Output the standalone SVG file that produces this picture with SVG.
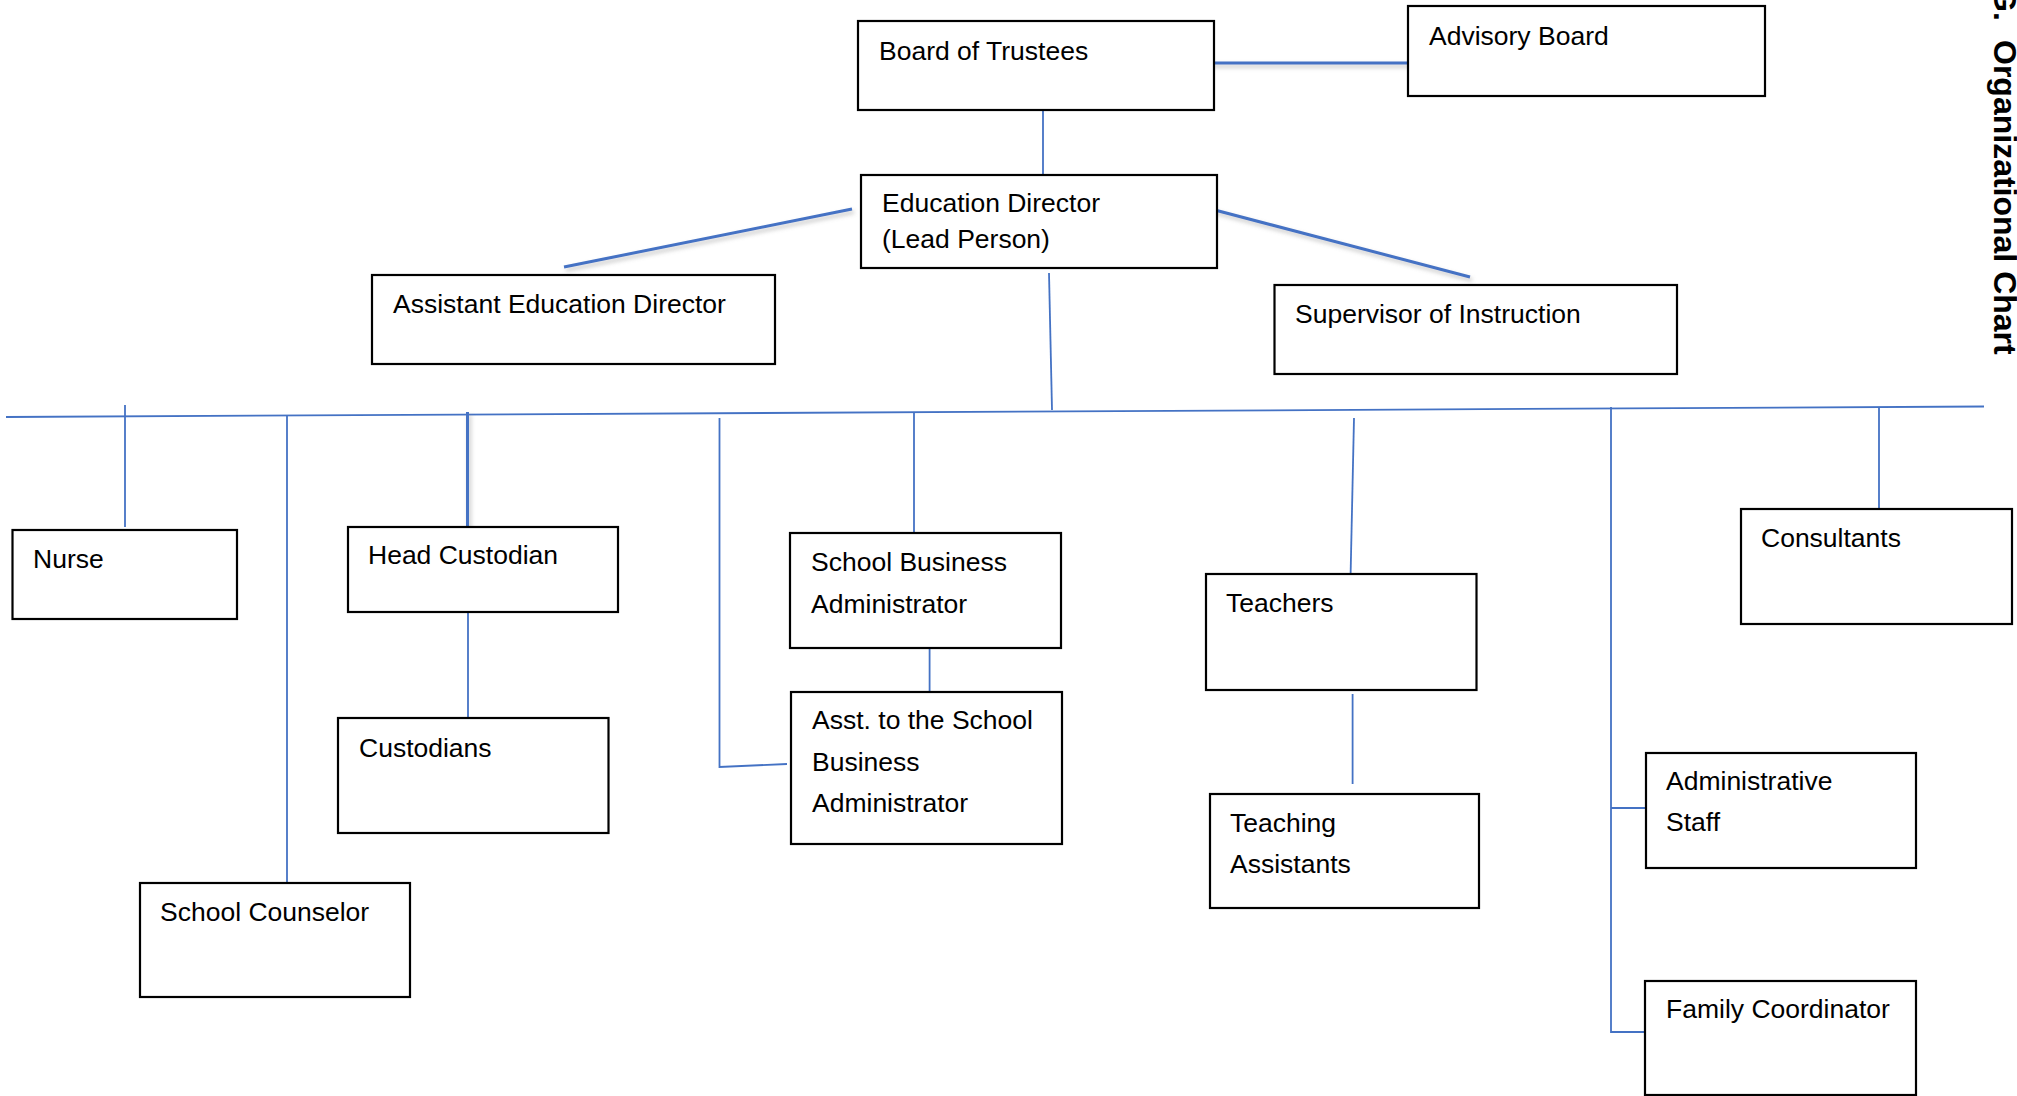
<svg xmlns="http://www.w3.org/2000/svg" width="2017" height="1096" viewBox="0 0 2017 1096">
<defs>
<style>
.box{fill:#fff;stroke:#000;stroke-width:2.2}
.lbl{font-family:"Liberation Sans",Arial,sans-serif;font-size:26.5px;fill:#000}
.ln{stroke:#4472C4;stroke-width:1.8;fill:none}
.lnb{stroke:#4472C4;stroke-width:3;fill:none;filter:url(#sh)}
.title{font-family:"Liberation Sans",Arial,sans-serif;font-size:32px;font-weight:bold;fill:#000}
</style>
<filter id="sh" filterUnits="userSpaceOnUse" x="0" y="0" width="2017" height="1096">
<feDropShadow dx="2" dy="3" stdDeviation="2" flood-color="#7f7f7f" flood-opacity="0.45"/>
</filter>
</defs>
<rect width="2017" height="1096" fill="#fff"/>

<g id="connectors">
<line class="lnb" x1="1211" y1="63" x2="1413" y2="63"/>
<line class="ln" x1="1043" y1="110" x2="1043" y2="175"/>
<line class="lnb" x1="852" y1="209" x2="564" y2="267"/>
<line class="lnb" x1="1211" y1="209" x2="1470" y2="277"/>
<line class="ln" x1="1049" y1="273" x2="1052" y2="410"/>
<line class="ln" x1="6" y1="417" x2="1984" y2="406.5"/>
<line class="ln" x1="125" y1="405" x2="125" y2="527"/>
<line class="ln" x1="287" y1="415" x2="287" y2="885"/>
<line class="lnb" x1="467.5" y1="412" x2="467.5" y2="532"/>
<line class="ln" x1="468" y1="612" x2="468" y2="730"/>
<polyline class="ln" points="719.5,418 719.5,767 787,764"/>
<line class="ln" x1="914" y1="412" x2="914" y2="534"/>
<line class="ln" x1="929.6" y1="635" x2="929.6" y2="692"/>
<line class="ln" x1="1354" y1="418" x2="1350.5" y2="579"/>
<line class="ln" x1="1352.6" y1="694" x2="1352.6" y2="784"/>
<polyline class="ln" points="1647,808 1611,808"/>
<polyline class="ln" points="1611,407 1611,1032 1645,1032"/>
<line class="ln" x1="1879" y1="407" x2="1879" y2="509"/>
</g>

<g id="board">
<rect class="box" x="858" y="21" width="356" height="89"/>
<text class="lbl" x="879" y="60">Board of Trustees</text>
</g>
<g id="advisory">
<rect class="box" x="1408" y="6" width="357" height="90"/>
<text class="lbl" x="1429" y="45">Advisory Board</text>
</g>
<g id="edDirector">
<rect class="box" x="861" y="175" width="356" height="93"/>
<text class="lbl" x="882" y="212">Education Director</text>
<text class="lbl" x="882" y="248">(Lead Person)</text>
</g>
<g id="asstEdDirector">
<rect class="box" x="372" y="275" width="403" height="89"/>
<text class="lbl" x="393" y="313">Assistant Education Director</text>
</g>
<g id="supervisor">
<rect class="box" x="1274.5" y="285" width="402.5" height="89"/>
<text class="lbl" x="1295" y="323">Supervisor of Instruction</text>
</g>
<g id="nurse">
<rect class="box" x="12.5" y="530" width="224.5" height="89"/>
<text class="lbl" x="33" y="568">Nurse</text>
</g>
<g id="headCustodian">
<rect class="box" x="348" y="527" width="270" height="85"/>
<text class="lbl" x="368" y="564">Head Custodian</text>
</g>
<g id="custodians">
<rect class="box" x="338" y="718" width="270.5" height="115"/>
<text class="lbl" x="359" y="757">Custodians</text>
</g>
<g id="counselor">
<rect class="box" x="140" y="883" width="270" height="114"/>
<text class="lbl" x="160" y="921">School Counselor</text>
</g>
<g id="sba">
<rect class="box" x="790" y="533" width="271" height="115"/>
<text class="lbl" x="811" y="571">School Business</text>
<text class="lbl" x="811" y="613">Administrator</text>
</g>
<g id="asstSba">
<rect class="box" x="791" y="692" width="271" height="152"/>
<text class="lbl" x="812" y="729">Asst. to the School</text>
<text class="lbl" x="812" y="771">Business</text>
<text class="lbl" x="812" y="812">Administrator</text>
</g>
<g id="teachers">
<rect class="box" x="1206" y="574" width="270.5" height="116"/>
<text class="lbl" x="1226" y="612">Teachers</text>
</g>
<g id="teachingAssistants">
<rect class="box" x="1210" y="794" width="269" height="114"/>
<text class="lbl" x="1230" y="832">Teaching</text>
<text class="lbl" x="1230" y="873">Assistants</text>
</g>
<g id="consultants">
<rect class="box" x="1741" y="509" width="271" height="115"/>
<text class="lbl" x="1761" y="547">Consultants</text>
</g>
<g id="adminStaff">
<rect class="box" x="1646" y="753" width="270" height="115"/>
<text class="lbl" x="1666" y="790">Administrative</text>
<text class="lbl" x="1666" y="831">Staff</text>
</g>
<g id="familyCoordinator">
<rect class="box" x="1645" y="981" width="271" height="114"/>
<text class="lbl" x="1666" y="1018">Family Coordinator</text>
</g>

<g id="title" transform="translate(1994,0) rotate(90)">
<text class="title" x="-13" y="0">G.</text>
<text class="title" x="40" y="0">Organizational Chart</text>
</g>
</svg>
